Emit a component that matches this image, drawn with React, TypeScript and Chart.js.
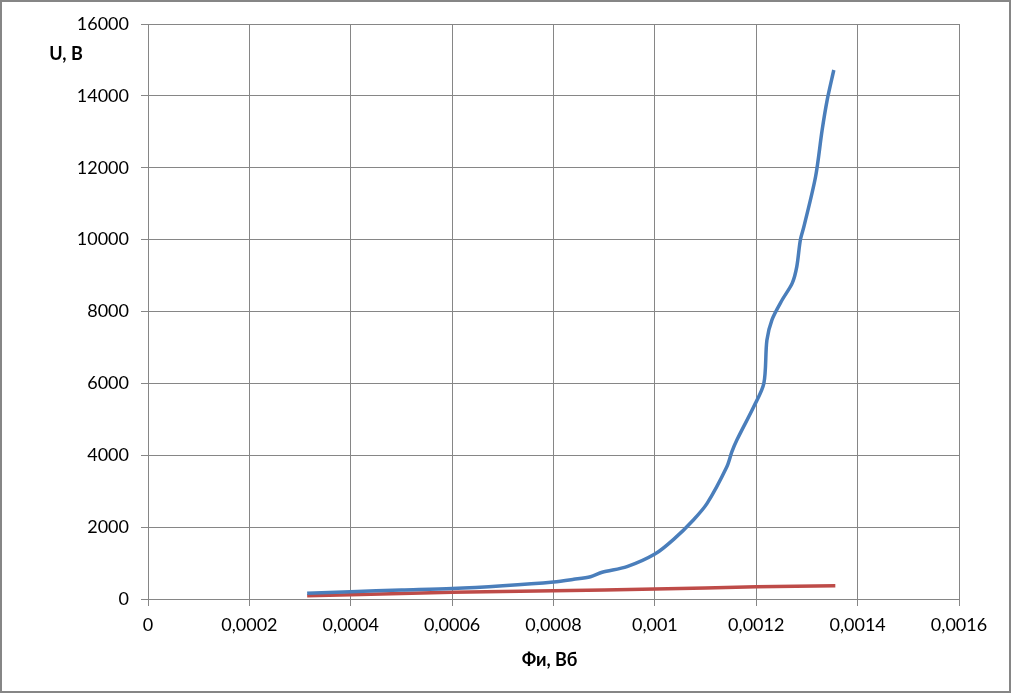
import React, { useEffect, useRef } from "react";
import { Chart, registerables } from "chart.js";

Chart.register(...registerables);

// Blue series: Фи (Вб) and U (В)
const blueX = [0.000314, 0.0004, 0.0005, 0.0006, 0.0007, 0.0008, 0.00084, 0.000873, 0.000896, 0.000945, 0.001, 0.001037, 0.001076, 0.001103, 0.001142, 0.001152, 0.001162, 0.001195, 0.001215, 0.001221, 0.001231, 0.001251, 0.001271, 0.00128, 0.001287, 0.001294, 0.001317, 0.00133, 0.00134, 0.001353];
const blueY = [158, 205, 250, 292, 370, 475, 548, 621, 743, 900, 1250, 1660, 2200, 2660, 3680, 4100, 4430, 5350, 6000, 7200, 7770, 8320, 8790, 9250, 9990, 10360, 11750, 13050, 13890, 14720];

// Red series
const redX = [0.000314, 0.0004, 0.0006, 0.0008, 0.001, 0.0012, 0.001356];
const redY = [92, 120, 186, 231, 278, 338, 370];

const xTicksMin = 0;
const xTicksMax = 0.0016;
const xStep = 0.0002;
const yTicksMin = 0;
const yTicksMax = 16000;
const yStep = 2000;

const yTitle = "U, В";
const xTitle = "Фи, Вб";

const FONT = "Lato, 'Open Sans', sans-serif";
const GRID = "#868686";

export default function App() {
  const ref = useRef<HTMLCanvasElement | null>(null);

  useEffect(() => {
    if (!ref.current) return;
    const decor = {
      id: "decor",
      afterDraw(chart: any) {
        const ctx = chart.ctx;
        const a = chart.chartArea;
        ctx.save();
        ctx.strokeStyle = GRID;
        ctx.lineWidth = 2;
        ctx.strokeRect(1, 1, chart.width - 3, chart.height - 4);
        ctx.fillStyle = "#000";
        ctx.font = `bold 18px ${FONT}`;
        ctx.textAlign = "center";
        ctx.textBaseline = "middle";
        ctx.fillText(yTitle, a.left - 82, a.top + 30);
        ctx.fillText(xTitle, (a.left + a.right) / 2 - 4, a.bottom + 61);
        ctx.restore();
      },
    };

    const chart = new Chart(ref.current, {
      type: "scatter",
      data: {
        datasets: [
          {
            data: blueX.map((x, i) => ({ x, y: blueY[i] })),
            borderColor: "#4A7EBB",
            backgroundColor: "#4A7EBB",
            borderWidth: 3.5,
            showLine: true,
            pointRadius: 0,
            tension: 0.3,
          },
          {
            data: redX.map((x, i) => ({ x, y: redY[i] })),
            borderColor: "#BE4B48",
            backgroundColor: "#BE4B48",
            borderWidth: 3.5,
            showLine: true,
            pointRadius: 0,
            tension: 0.3,
          },
        ],
      },
      options: {
        animation: false,
        responsive: false,
        layout: { padding: { left: 0, top: 24, right: 53, bottom: 0 } },
        plugins: { legend: { display: false }, tooltip: { enabled: false } },
        scales: {
          x: {
            type: "linear",
            min: xTicksMin,
            max: xTicksMax,
            afterFit: (s: any) => {
              s.height = 96;
            },
            ticks: {
              stepSize: xStep,
              color: "#000",
              font: { family: FONT, size: 18 },
              padding: 8,
              maxRotation: 0,
              callback: (v: any) => {
                const n = Number(v);
                if (n === 0) return "0";
                return parseFloat(n.toFixed(6)).toString().replace(".", ",");
              },
            },
            grid: { color: GRID, tickLength: 7, lineWidth: 1 },
            border: { color: GRID, width: 1 },
          },
          y: {
            type: "linear",
            min: yTicksMin,
            max: yTicksMax,
            afterFit: (s: any) => {
              s.width = 148;
            },
            ticks: {
              stepSize: yStep,
              color: "#000",
              font: { family: FONT, size: 18 },
              padding: 12,
              callback: (v: any) => String(v),
            },
            grid: { color: GRID, tickLength: 7, lineWidth: 1 },
            border: { color: GRID, width: 1 },
          },
        },
      },
      plugins: [decor],
    });
    return () => chart.destroy();
  }, []);

  return (
    <div style={{ position: "absolute", left: 0, top: 0, width: 1012, height: 695, background: "#fff" }}>
      <canvas ref={ref} width={1012} height={695} />
    </div>
  );
}
